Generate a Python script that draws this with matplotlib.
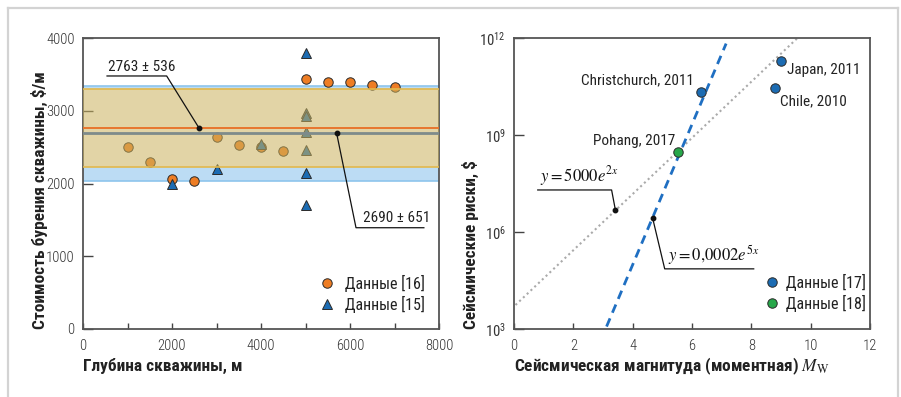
import numpy as np
import matplotlib
matplotlib.use("Agg")
import matplotlib.pyplot as plt
from matplotlib import font_manager
from matplotlib.lines import Line2D
from matplotlib.ticker import FixedLocator, FixedFormatter, NullLocator

# ---------------- drilling cost vs well depth ----------------
depth_16 = [1000, 1500, 2000, 2500, 3000, 3500, 4000, 4500, 5000, 5500, 6000, 6500, 7000]
cost_16 = [2500, 2300, 2060, 2030, 2640, 2530, 2500, 2440, 3440, 3390, 3400, 3360, 3320]
depth_15 = [2000, 3000, 4000, 5000, 5000, 5000, 5000, 5000, 5000, 5000]
cost_15 = [2000, 2200, 2540, 3800, 2970, 2930, 2710, 2460, 2150, 1700]
mean_16, sd_16 = 2763, 536
mean_15, sd_15 = 2690, 651
label_16 = "Данные [16]"
label_15 = "Данные [15]"

# ---------------- seismic losses vs magnitude ----------------
events_17 = ["Christchurch, 2011", "Japan, 2011", "Chile, 2010"]
mag_17 = [6.3, 9.0, 8.8]
loss_17 = [2.1e10, 2.0e11, 2.8e10]
events_18 = ["Pohang, 2017"]
mag_18 = [5.53]
loss_18 = [2.9e8]
label_17 = "Данные [17]"
label_18 = "Данные [18]"
fit_a1, fit_b1 = 5000, 2        # y = 5000 e^{2x}
fit_a2, fit_b2 = 0.0002, 5      # y = 0,0002 e^{5x}


def first_font(names):
    avail = {f.name for f in font_manager.fontManager.ttflist}
    for n in names:
        if n in avail:
            return n
    return "DejaVu Sans"


FONT = first_font(["Roboto Condensed", "Liberation Sans Narrow", "Open Sans Condensed",
                   "Liberation Sans", "DejaVu Sans"])
plt.rcParams["font.family"] = [FONT, "DejaVu Sans"]
plt.rcParams["mathtext.fontset"] = "custom"
plt.rcParams["mathtext.rm"] = FONT
plt.rcParams["mathtext.it"] = FONT + ":italic"
plt.rcParams["mathtext.bf"] = FONT + ":bold"

ORANGE = "#ee7d24"
BLUE = "#1c6cb3"
GREEN = "#27a74a"
EDGE = "#2a2a2a"
SPINE = "#555555"
TXT = "#333333"

W, H = 901, 397
fig = plt.figure(figsize=(W / 100, H / 100), dpi=100)


def fx(px):
    return px / W


def fy(py):
    return 1 - py / H


# card frame (open at the bottom)
for xs, ys in [((8, 8), (397, 8)), ((8, 898), (8, 8)), ((898, 898), (8, 397))]:
    fig.add_artist(Line2D([fx(v) for v in xs], [fy(v) for v in ys], color="#d3d3d3",
                          lw=1.6, transform=fig.transFigure))

ax1 = fig.add_axes([fx(83), fy(329), fx(439) - fx(83), fy(38) - fy(329)])
ax2 = fig.add_axes([fx(514), fy(329), fx(870) - fx(514), fy(38) - fy(329)])

for ax in (ax1, ax2):
    for s in ax.spines.values():
        s.set_color(SPINE)
        s.set_linewidth(1.3)
    ax.tick_params(which="both", direction="in", color="#444444", width=1.0,
                   labelsize=10.5, labelcolor=TXT)
    ax.tick_params(axis="y", length=7, pad=6)
    ax.tick_params(axis="x", which="both", length=4.5, pad=7)

# ---------------- left panel ----------------
ax1.set_xlim(0, 8000)
ax1.set_ylim(0, 4000)
ax1.xaxis.set_major_locator(FixedLocator([0, 2000, 4000, 6000, 8000]))
ax1.xaxis.set_minor_locator(FixedLocator([1000, 3000, 5000, 7000]))
ax1.yaxis.set_major_locator(FixedLocator([0, 1000, 2000, 3000, 4000]))

lo15, hi15 = mean_15 - sd_15, mean_15 + sd_15
lo16, hi16 = mean_16 - sd_16, mean_16 + sd_16
ax1.axhspan(lo15, lo16, color="#bcdcf4", lw=0, zorder=1)
ax1.axhspan(hi16, hi15, color="#bcdcf4", lw=0, zorder=1)
ax1.axhline(lo15, color="#8ec5ec", lw=1.2, zorder=1.5)
ax1.axhline(hi15, color="#8ec5ec", lw=1.2, zorder=1.5)

ax1.plot(depth_16, cost_16, "o", ms=6.8, mfc=ORANGE, mec=EDGE, mew=0.7, zorder=3,
         label=label_16)
ax1.plot(depth_15, cost_15, "^", ms=7.2, mfc=BLUE, mec=EDGE, mew=0.7, zorder=3,
         label=label_15)

ax1.axhspan(lo16, hi16, facecolor="#cbb25e", alpha=0.55, lw=0, zorder=4)
ax1.axhline(lo16, color="#e2b84c", lw=1.2, zorder=4.5)
ax1.axhline(hi16, color="#e2b84c", lw=1.2, zorder=4.5)
ax1.axhline(mean_16, color="#e8762e", lw=1.4, zorder=5)
ax1.axhline(mean_15, color="#7e8b8b", lw=2.0, zorder=5)

# callouts for the mean ± sd values
ax1.plot([540, 1880, 2607], [3478, 3478, mean_16], color="#111111", lw=0.9, zorder=6)
ax1.plot([2607], [mean_16], "o", ms=3.2, color="#111111", zorder=6)
ax1.text(560, 3510, f"{mean_16} ± {sd_16}", fontsize=11, color="#222222", ha="left",
         va="bottom", zorder=6)
ax1.plot([7660, 6135, 5700], [1392, 1392, mean_15], color="#111111", lw=0.9, zorder=6)
ax1.plot([5700], [mean_15], "o", ms=3.2, color="#111111", zorder=6)
ax1.text(6290, 1424, f"{mean_15} ± {sd_15}", fontsize=11, color="#222222", ha="left",
         va="bottom", zorder=6)

leg1 = ax1.legend(loc="center left", bbox_to_anchor=(0.664, 0.1215), frameon=False,
                  borderpad=0, borderaxespad=0, handlelength=1.0, handletextpad=0.6,
                  labelspacing=0.25, fontsize=11.5, markerscale=1.0)
for t in leg1.get_texts():
    t.set_color("#222222")

fig.text(fx(83), fy(366), "Глубина скважины, м", fontsize=12.5, fontweight="bold",
         ha="left", va="center", color="#222222")
fig.text(fx(39), fy(329), "Стоимость бурения скважины, $/м", fontsize=12.5,
         fontweight="bold", rotation=90, ha="center", va="bottom", color="#222222")

# ---------------- right panel ----------------
ax2.set_xlim(0, 12)
ax2.set_yscale("log")
ax2.set_ylim(1e3, 1e12)
ax2.xaxis.set_major_locator(FixedLocator([0, 2, 4, 6, 8, 10, 12]))
ax2.yaxis.set_major_locator(FixedLocator([1e3, 1e6, 1e9, 1e12]))
ax2.yaxis.set_major_formatter(FixedFormatter([r"$10^{3}$", r"$10^{6}$", r"$10^{9}$",
                                              r"$10^{12}$"]))
ax2.yaxis.set_minor_locator(NullLocator())

x_fit1 = np.linspace(0.05, 12, 200)
ax2.plot(x_fit1, fit_a1 * np.exp(fit_b1 * x_fit1), color="#aaaaaa", lw=1.5,
         ls=(0, (1, 1.5)), zorder=2)
x_fit2 = np.linspace(3.12, 7.15, 100)
ax2.plot(x_fit2, fit_a2 * np.exp(fit_b2 * x_fit2), color="#1f6fc2", lw=2.0,
         ls=(0, (3.2, 2.2)), zorder=2)

ax2.plot(mag_17, loss_17, "o", ms=6.8, mfc=BLUE, mec=EDGE, mew=0.7, zorder=3,
         label=label_17)
ax2.plot(mag_18, loss_18, "o", ms=6.8, mfc=GREEN, mec=EDGE, mew=0.7, zorder=3,
         label=label_18)

# label offsets in pixels (x right, y up) and alignment
offsets = {"Christchurch, 2011": (-7, 12, "right"),
           "Japan, 2011": (6, -9.5, "left"),
           "Chile, 2010": (5, -12.7, "left"),
           "Pohang, 2017": (-3, 11.6, "right")}
for name, m, v in zip(events_17 + events_18, mag_17 + mag_18, loss_17 + loss_18):
    dx, dy, ha = offsets[name]
    ax2.annotate(name, (m, v), xytext=(dx, dy), textcoords="offset pixels", ha=ha,
                 va="center", fontsize=11, color="#222222", zorder=6)

# equation callouts
xa1 = 3.42
ya1 = fit_a1 * np.exp(fit_b1 * xa1)
ax2.plot([0.80, 3.29, xa1], [10 ** 7.30, 10 ** 7.30, ya1], color="#111111", lw=0.9,
         zorder=6)
ax2.plot([xa1], [ya1], "o", ms=3.2, color="#111111", zorder=6)
ax2.text(0.86, 10 ** 7.36, r"$y = 5000e^{2x}$", fontsize=12, math_fontfamily="stix",
         ha="left", va="bottom", color="#111111", zorder=6)
xa2 = 4.67
ya2 = fit_a2 * np.exp(fit_b2 * xa2)
ax2.plot([8.08, 5.08, xa2], [10 ** 4.86, 10 ** 4.86, ya2], color="#111111", lw=0.9,
         zorder=6)
ax2.plot([xa2], [ya2], "o", ms=3.2, color="#111111", zorder=6)
ax2.text(5.18, 10 ** 4.92, r"$y = 0{,}0002e^{5x}$", fontsize=12, math_fontfamily="stix",
         ha="left", va="bottom", color="#111111", zorder=6)

leg2 = ax2.legend(loc="center left", bbox_to_anchor=(0.703, 0.1235), frameon=False,
                  borderpad=0, borderaxespad=0, handlelength=1.0, handletextpad=0.35,
                  labelspacing=0.25, fontsize=11.5)
for t in leg2.get_texts():
    t.set_color("#222222")

fig.text(fx(514), fy(366), r"Сейсмическая магнитуда (моментная) $M_{\mathrm{W}}$",
         fontsize=12.5, fontweight="bold", ha="left", va="center", color="#222222",
         math_fontfamily="stix")
fig.text(fx(470), fy(329), "Сейсмические риски, $", fontsize=12.5, fontweight="bold",
         rotation=90, ha="center", va="bottom", color="#222222")

for ax in (ax1, ax2):
    for lab in ax.get_xticklabels() + ax.get_yticklabels():
        lab.set_fontweight("light")

fig.savefig("out.png", dpi=100)
